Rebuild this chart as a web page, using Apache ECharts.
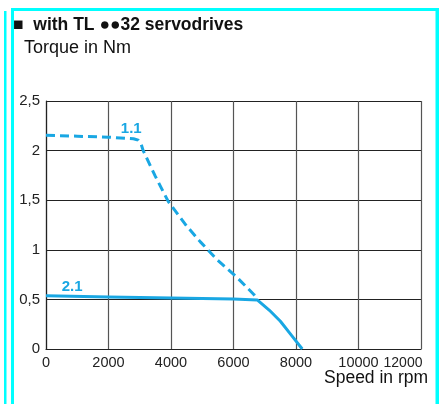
<!DOCTYPE html>
<html>
<head>
<meta charset="utf-8">
<script src="https://cdn.jsdelivr.net/npm/echarts@6/dist/echarts.min.js"></script>
<style>
html,body{margin:0;padding:0;background:#fff;}
#c{width:441px;height:404px;}
</style>
</head>
<body>
<div id="c"></div>
<script>
const titleText = '\u25A0  with TL \u25CF\u25CF32 servodrives';
const xName = 'Speed in rpm';
const yName = 'Torque in Nm';
const xTicks = [0, 2000, 4000, 6000, 8000, 10000, 12000];
const yTicks = [0, 0.5, 1, 1.5, 2, 2.5];
const curve11Name = '1.1';
const curve11 = [[0,2.155],[1000,2.145],[2000,2.135],[2800,2.12],[2950,2.105],[3050,2.06],[3110,2.0],[3500,1.74],[3915,1.485],[4500,1.24],[4940,1.08],[5475,0.9],[6117,0.72],[6650,0.55],[6760,0.497]];
const curve21Name = '2.1';
const curve21 = [[0,0.536],[2000,0.525],[4000,0.515],[6000,0.503],[6760,0.495],[7150,0.39],[7500,0.28],[7850,0.14],[8200,0]];
const label11At = [2727, 2.215];
const label21At = [834, 0.627];

const blue = '#19a7e3';
const cyan = '#00ffff';
const chart = echarts.init(document.getElementById('c'));
chart.setOption({
  animation: false,
  title: {
    text: titleText, left: 8, top: 11,
    textStyle: {fontFamily: 'Liberation Sans, Arial', fontSize: 17.5, fontWeight: 'bold', color: '#111'}
  },
  grid: {left: 46, right: 20, top: 101, bottom: 55, containLabel: false, outerBoundsMode: 'none'},
  xAxis: {
    type: 'value', min: 0, max: 12000, interval: 2000,
    name: xName, nameLocation: 'end', nameGap: -97, nameMoveOverlap: false,
    nameTextStyle: {fontFamily: 'Liberation Sans, Arial', fontSize: 17.5, color: '#111', align: 'left', verticalAlign: 'top', padding: [20,0,0,0]},
    axisLine: {show: true, lineStyle: {color: '#222', width: 1.2}},
    axisTick: {show: false},
    splitLine: {show: true, lineStyle: {color: '#555', width: 1.2}},
    axisLabel: {
      fontFamily: 'Liberation Sans, Arial', fontSize: 14.5, color: '#222', margin: 6,
      showMaxLabel: true, hideOverlap: false,
      formatter: function (v) { return v === 12000 ? '{r|' + v + '}' : '' + v; },
      rich: {r: {fontFamily: 'Liberation Sans, Arial', fontSize: 14, color: '#222', padding: [1, 36, 0, 0]}}
    }
  },
  yAxis: {
    type: 'value', min: 0, max: 2.5, interval: 0.5,
    name: yName, nameLocation: 'end', nameGap: 53, nameMoveOverlap: false,
    nameTextStyle: {fontFamily: 'Liberation Sans, Arial', fontSize: 18, color: '#111', align: 'left', verticalAlign: 'middle', padding: [0,0,0,-22]},
    axisLine: {show: true, lineStyle: {color: '#222', width: 1.2}},
    axisTick: {show: false},
    splitLine: {show: true, lineStyle: {color: '#222', width: 1.2}},
    axisLabel: {
      fontFamily: 'Liberation Sans, Arial', fontSize: 15, color: '#222', margin: 6,
      formatter: function (v) { return String(v).replace('.', ','); }
    }
  },
  series: [
    {
      name: curve11Name, type: 'line', data: curve11, symbol: 'none',
      lineStyle: {color: blue, width: 3, type: [9, 5]},
      markPoint: {
        symbol: 'circle', symbolSize: 0,
        label: {show: true, position: 'inside', formatter: curve11Name, color: blue, fontFamily: 'Liberation Sans, Arial', fontWeight: 'bold', fontSize: 15},
        data: [{coord: label11At}]
      }
    },
    {
      name: curve21Name, type: 'line', data: curve21, symbol: 'none',
      lineStyle: {color: blue, width: 3},
      markPoint: {
        symbol: 'circle', symbolSize: 0,
        label: {show: true, position: 'inside', formatter: curve21Name, color: blue, fontFamily: 'Liberation Sans, Arial', fontWeight: 'bold', fontSize: 15},
        data: [{coord: label21At}]
      }
    }
  ],
  graphic: [
    {type: 'rect', shape: {x: 4, y: 11, width: 2.5, height: 400}, style: {fill: cyan}, silent: true},
    {type: 'rect', shape: {x: 11, y: 8, width: 3, height: 400}, style: {fill: cyan}, silent: true},
    {type: 'rect', shape: {x: 11, y: 8, width: 428, height: 3}, style: {fill: cyan}, silent: true},
    {type: 'rect', shape: {x: 435.5, y: 8, width: 3.5, height: 400}, style: {fill: cyan}, silent: true}
  ]
});
</script>
</body>
</html>
